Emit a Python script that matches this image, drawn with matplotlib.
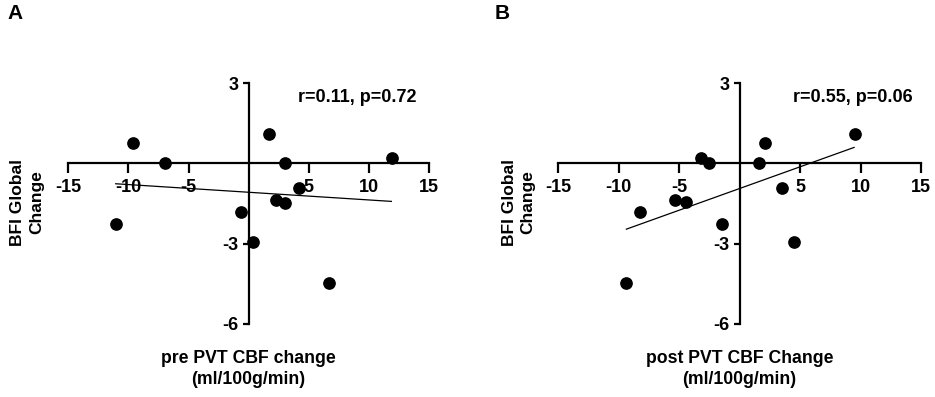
import numpy as np
import matplotlib.pyplot as plt

plt.rcParams['font.family'] = ['Liberation Sans', 'DejaVu Sans']
plt.rcParams['font.weight'] = 'bold'
plt.rcParams['axes.unicode_minus'] = False

# BFI global change (same subjects in both panels)
pre_x = [-9.65, -7.0, 1.72, 2.99, 11.95, -11.06, -0.64, 0.33, 2.25, 3.02, 4.16, 6.65]
pre_y = [0.75, 0.0, 1.09, 0.0, 0.2, -2.25, -1.82, -2.93, -1.37, -1.49, -0.92, -4.48]
pre_fit_x = [-11.06, 11.87]
pre_fit_y = [-0.76, -1.42]

post_x = [9.51, 2.10, -3.20, -2.51, 1.57, -5.35, -4.47, -8.27, 3.53, -1.43, 4.52, -9.37]
post_y = [1.09, 0.75, 0.2, 0.0, 0.0, -1.37, -1.46, -1.82, -0.92, -2.26, -2.95, -4.48]
post_fit_x = [-9.37, 9.46]
post_fit_y = [-2.46, 0.6]

xticks = [-15, -10, -5, 5, 10, 15]
yticks = [3, -3, -6]

fig = plt.figure(figsize=(9.35, 3.97), dpi=100)
axA = fig.add_axes([0.0731, 0.1846, 0.3857, 0.6055])
axB = fig.add_axes([0.5971, 0.1846, 0.3880, 0.6055])

panels = [
    (axA, pre_x, pre_y, pre_fit_x, pre_fit_y, 'r=0.11, p=0.72', 4.1,
     'pre PVT CBF change\n(ml/100g/min)', 'A', 0.008, 0.029),
    (axB, post_x, post_y, post_fit_x, post_fit_y, 'r=0.55, p=0.06', 4.4,
     'post PVT CBF Change\n(ml/100g/min)', 'B', 0.529, 0.555),
]

for ax, x, y, fx, fy, stat, sx, xlab, letter, lx, ylx in panels:
    ax.scatter(x, y, s=66, color='black', zorder=3, clip_on=False)
    ax.plot(fx, fy, color='black', lw=0.9)
    ax.set_xlim(-15, 15)
    ax.set_ylim(-6, 3)
    for side in ['top', 'right']:
        ax.spines[side].set_visible(False)
    ax.spines['left'].set_position(('data', 0))
    ax.spines['bottom'].set_position(('data', 0))
    ax.spines['left'].set_linewidth(1.6)
    ax.spines['bottom'].set_linewidth(1.6)
    ax.set_xticks(xticks)
    ax.set_yticks(yticks)
    ax.tick_params(axis='x', length=7, width=1.6, pad=4, labelsize=13)
    ax.tick_params(axis='y', length=4.5, width=1.6, pad=3, labelsize=13)
    ax.patch.set_visible(False)
    ax.text(sx, 2.48, stat, fontsize=13, fontweight='bold', va='center', ha='left')
    bb = ax.get_position()
    fig.text(bb.x0 + bb.width / 2, 0.071, xlab, ha='center', va='center',
             fontsize=12.7, fontweight='bold', linespacing=1.3)
    fig.text(ylx, 0.49, 'BFI Global\nChange', rotation=90, ha='center', va='center',
             fontsize=12.5, fontweight='bold', linespacing=1.3)
    fig.text(lx, 0.965, letter, ha='left', va='center', fontsize=15, fontweight='bold')

fig.savefig('out.png', dpi=100)
